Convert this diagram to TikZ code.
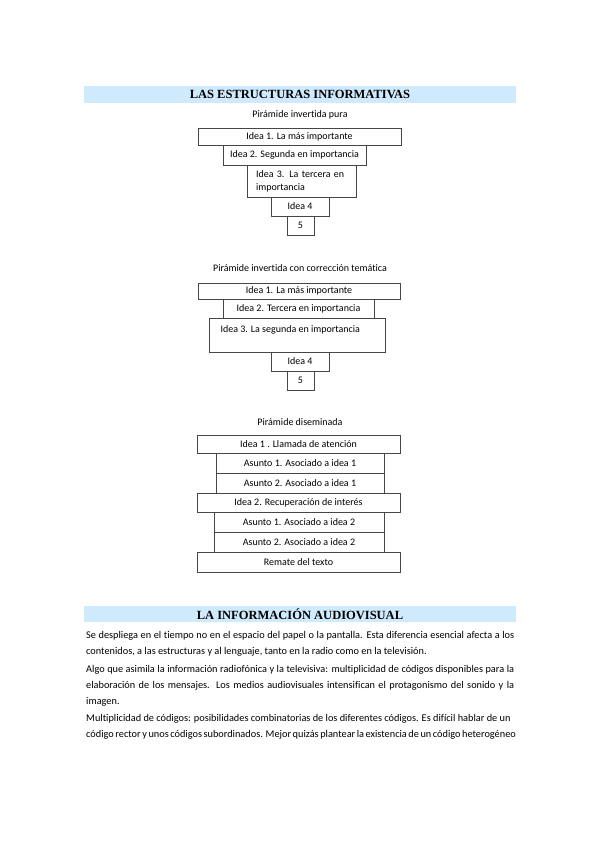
\documentclass[tikz,border=0pt]{standalone}
\usepackage{fontspec}
\setmainfont{Carlito}[Ligatures=NoCommon]
\newfontfamily\headfont{Liberation Serif}
\definecolor{headblue}{RGB}{207,234,252}
\definecolor{boxline}{RGB}{70,70,70}

\begin{document}
\begin{tikzpicture} [x = 1pt, y = -1pt,
	box/.style = {draw = boxline, line width = 0.8pt, inner sep = 0pt, font = \fontsize{10}{13}\selectfont},
	title/.style = {font = \fontsize{10}{12}\selectfont},
	band/.style = {fill = headblue, draw = none, inner sep = 0pt, font = \headfont\bfseries\fontsize{12.5}{14}\selectfont},
	para/.style = {anchor = north west, inner sep = 0pt, text width = 428pt, align = justify, font = \fontsize{10.3}{16}\selectfont}]
	\useasboundingbox [fill = white] (0,0) rectangle (599,848);

	% las estructuras informativas
	\node [band, minimum width = 432, minimum height = 17] (head1) at (300,94.5) {LAS ESTRUCTURAS INFORMATIVAS};

	% piramide invertida pura
	\node [title] (t1) at (300,115) {Pirámide invertida pura};
	\node [box, minimum width = 203, minimum height = 17] (a1) at (299.5,136.5) {Idea 1. La más importante};
	\node [box, minimum width = 143, minimum height = 20] (a2) at (294.5,155) {Idea 2. Segunda en importancia};
	\node [box, minimum width = 109, minimum height = 32, text width = 91pt, align = left] (a3) at (301.5,181) {\makebox[91pt][s]{Idea 3. La tercera en}\\importancia};
	\node [box, minimum width = 58, minimum height = 19] (a4) at (300,206.5) {Idea 4};
	\node [box, minimum width = 27, minimum height = 19] (a5) at (300.5,225.5) {5};

	% piramide invertida con correccion tematica
	\node [title] (t2) at (300,268) {Pirámide invertida con corrección temática};
	\node [box, minimum width = 202, minimum height = 16] (b1) at (299,291) {Idea 1. La más importante};
	\node [box, minimum width = 151, minimum height = 19] (b2) at (298.5,308.5) {Idea 2. Tercera en importancia};
	\node [box, minimum width = 176, minimum height = 34] (b3) at (297,335) {};
	\node [title, anchor = west] (b3text) at (217,330) {Idea 3. La segunda en importancia};
	\node [box, minimum width = 58, minimum height = 19] (b4) at (300,361.5) {Idea 4};
	\node [box, minimum width = 27, minimum height = 19] (b5) at (300.5,380.5) {5};

	% piramide diseminada
	\node [title] (t3) at (300,422) {Pirámide diseminada};
	\node [box, minimum width = 203, minimum height = 18] (c1) at (298.5,444) {Idea 1 . Llamada de atención};
	\node [box, minimum width = 168, minimum height = 20] (c2) at (300,463) {Asunto 1. Asociado a idea 1};
	\node [box, minimum width = 168, minimum height = 20] (c3) at (300,483) {Asunto 2. Asociado a idea 1};
	\node [box, minimum width = 203, minimum height = 19] (c4) at (298.5,502.5) {Idea 2. Recuperación de interés};
	\node [box, minimum width = 170, minimum height = 20] (c5) at (299,522) {Asunto 1. Asociado a idea 2};
	\node [box, minimum width = 170, minimum height = 20] (c6) at (299,542) {Asunto 2. Asociado a idea 2};
	\node [box, minimum width = 203, minimum height = 20] (c7) at (298.5,562) {Remate del texto};

	% la informacion audiovisual
	\node [band, minimum width = 432, minimum height = 16] (head2) at (300,614) {LA INFORMACIÓN AUDIOVISUAL};
	\node [para] (p1) at (86,631) {Se despliega en el tiempo no en el espacio del papel o la pantalla. Esta diferencia esencial afecta a los\linebreak contenidos, a las estructuras y al lenguaje, tanto en la radio como en la televisión.};
	\node [para] (p2) at (86,665) {Algo que asimila la información radiofónica y la televisiva: multiplicidad de códigos disponibles para la\linebreak elaboración de los mensajes. Los medios audiovisuales intensifican el protagonismo del sonido y la\linebreak imagen.};
	\node [para] (p3) at (86,714) {Multiplicidad de códigos: posibilidades combinatorias de los diferentes códigos. Es difícil hablar de un\\\makebox[428pt][s]{código rector y unos códigos subordinados. Mejor quizás plantear la existencia de un código heterogéneo}};
\end{tikzpicture}
\end{document}
